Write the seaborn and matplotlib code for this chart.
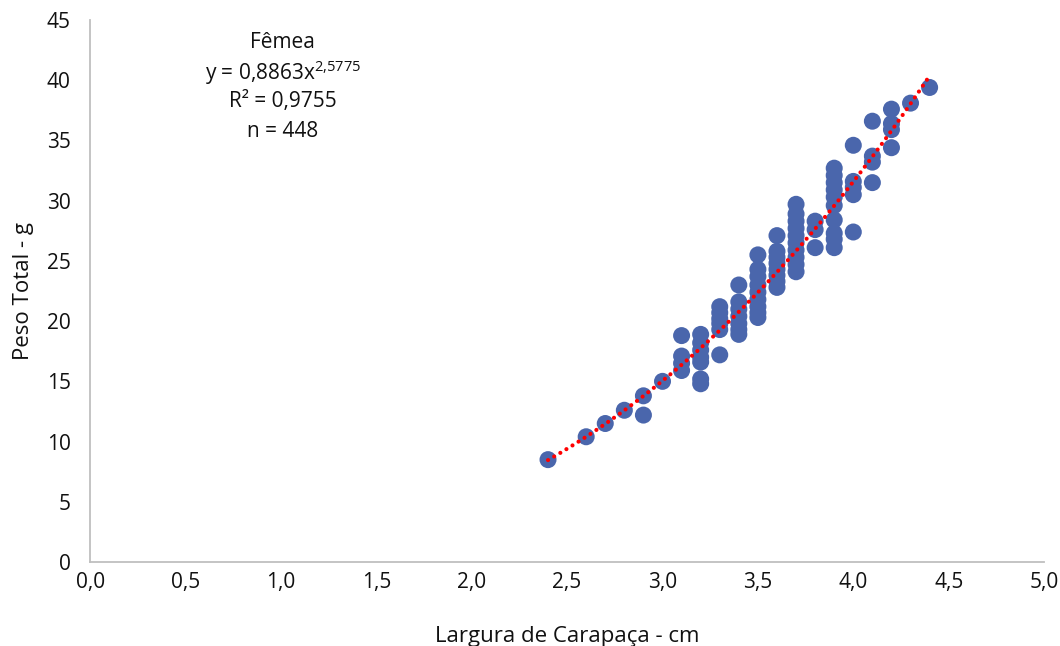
"""
Peso Total vs Largura de Carapaça — Fêmea (power fit)
Output: out.png
"""

import numpy as np
import pandas as pd
import matplotlib.pyplot as plt
import seaborn as sns

# carapace width classes (cm) and the weights (g) read at each class
LARGURA = [2.4, 2.6, 2.7, 2.8, 2.9, 3.0, 3.1, 3.2, 3.3, 3.4, 3.5,
           3.6, 3.7, 3.8, 3.9, 4.0, 4.1, 4.2, 4.3, 4.4]
PESO = [
    [8.5],
    [10.4],
    [11.5],
    [12.6],
    [13.8, 12.2],
    [15.0],
    [18.8, 17.1, 16.5, 15.9],
    [18.9, 18.2, 17.6, 17.0, 16.6, 15.2, 14.8],
    [21.2, 20.7, 20.2, 19.8, 19.3, 17.2],
    [23.0, 21.6, 21.0, 20.4, 19.8, 19.3, 18.9],
    [25.5, 24.3, 23.7, 23.0, 22.4, 21.8, 21.2, 20.7, 20.3],
    [27.1, 25.8, 25.3, 24.8, 24.3, 23.8, 23.3, 22.8],
    [29.7, 28.9, 28.3, 27.7, 27.1, 26.5, 25.9, 25.3, 24.7, 24.1],
    [28.3, 27.6, 26.1],
    [32.7, 32.1, 31.5, 30.9, 30.3, 29.6, 28.4, 27.3, 26.8, 26.1],
    [34.6, 31.6, 31.1, 30.5, 27.4],
    [36.6, 33.7, 33.2, 31.5],
    [37.6, 36.4, 35.9, 34.4],
    [38.1],
    [39.4],
]

# power trendline reported on the chart
COEF_A = 0.8863
COEF_B = 2.5775

X_TICKS = [0.0, 0.5, 1.0, 1.5, 2.0, 2.5, 3.0, 3.5, 4.0, 4.5, 5.0]
Y_TICKS = [0, 5, 10, 15, 20, 25, 30, 35, 40, 45]

df = pd.DataFrame(
    [(x, y) for x, ys in zip(LARGURA, PESO) for y in ys],
    columns=["largura", "peso"],
)

sns.set_style("white")
plt.rcParams["font.family"] = ["Open Sans", "DejaVu Sans"]
plt.rcParams["mathtext.fontset"] = "custom"
plt.rcParams["mathtext.rm"] = "Open Sans"

fig = plt.figure(figsize=(10.6, 6.46), dpi=100)
ax = fig.add_axes([0.085, 0.130, 0.900, 0.839])

sns.scatterplot(data=df, x="largura", y="peso", ax=ax, s=150,
                color="#4A66AC", edgecolor="none", linewidth=0, zorder=2)

xf = np.linspace(min(LARGURA), max(LARGURA), 200)
ax.plot(xf, COEF_A * xf ** COEF_B, color="#FF0000", lw=3.0,
        linestyle=(0, (0.01, 1.7)), dash_capstyle="round", zorder=3)

ax.set_xlim(0, 5)
ax.set_ylim(0, 45)
ax.set_xticks(X_TICKS)
ax.set_xticklabels([f"{t:.1f}".replace(".", ",") for t in X_TICKS])
ax.set_yticks(Y_TICKS)
ax.tick_params(axis="both", length=0, labelsize=15, colors="#111111")
ax.tick_params(axis="x", pad=7)
ax.tick_params(axis="y", pad=14)

ax.set_xlabel("Largura de Carapaça - cm", fontsize=16, labelpad=24, color="#111111")
ax.set_ylabel("Peso Total - g", fontsize=16, labelpad=9, color="#111111")

for side in ["top", "right"]:
    ax.spines[side].set_visible(False)
for side in ["left", "bottom"]:
    ax.spines[side].set_color("#BFBFBF")
    ax.spines[side].set_linewidth(1.3)

eq_lines = [
    "Fêmea",
    r"y = 0,8863x$^{\mathregular{2{,}5775}}$",
    "R² = 0,9755",
    "n = 448",
]
for i, line in enumerate(eq_lines):
    ax.text(1.01, 43.1 - i * 2.45, line, ha="center", va="center",
            fontsize=15, color="#111111")

fig.savefig("out.png", dpi=100)
plt.close()
